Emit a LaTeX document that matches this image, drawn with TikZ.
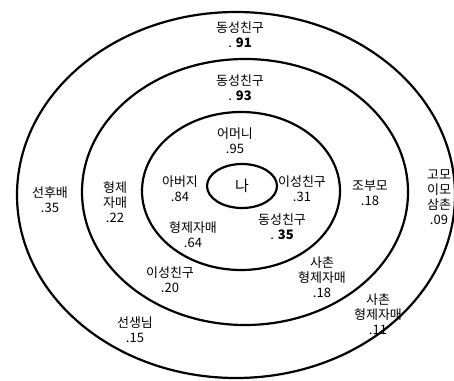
\documentclass[tikz,border=0pt]{standalone}
\usepackage{fontspec}
\setmainfont{Noto Sans CJK KR}
\usetikzlibrary{positioning}
\tikzset{
  ring/.style={line width=2.2pt},
  tie/.style={font=\fontsize{13}{15}\selectfont, align=center, inner sep=1pt}
}

\begin{document}
\begin{tikzpicture}[x=1pt, y=-1pt]
      \useasboundingbox (0,0) rectangle (454,380);
      \clip (0,0) rectangle (454,380);
      % rings
      \draw[ring] (236,195) ellipse [x radius=219, y radius=183];
      \draw[ring] (245,192) ellipse [x radius=163, y radius=133];
      \draw[ring] (241,191) ellipse [x radius=99, y radius=79];
      \draw[ring] (242,186) ellipse [x radius=35, y radius=22];
      % centre
      \node[tie, font=\fontsize{15}{17}\selectfont] (me) at (242,186) {나};
      % first ring
      \node[tie] (mother) at (235,141) {어머니\\.95};
      \node[tie] (father) at (180,189) {아버지\\.84};
      \node[tie] (oppfr1) at (302,189) {이성친구\\.31};
      \node[tie] (sibl1) at (193,235) {형제자매\\.64};
      \node[tie] (samefr1) at (282,227) {동성친구\\. \textbf{35}};
      % second ring
      \node[tie] (samefr2) at (240,88) {동성친구\\. \textbf{93}};
      \node[tie] (sibl2) at (115,202) {형제\\자매\\.22};
      \node[tie] (grand) at (370,193) {조부모\\.18};
      \node[tie] (oppfr2) at (170,280) {이성친구\\.20};
      \node[tie] (cousin1) at (322,277) {사촌\\형제자매\\.18};
      % outer ring
      \node[tie] (samefr3) at (240,35) {동성친구\\. \textbf{91}};
      \node[tie] (senior) at (50,200) {선후배\\.35};
      \node[tie] (teacher) at (135,330) {선생님\\.15};
      \node[tie] (cousin2) at (378,314) {사촌\\형제자매\\.11};
      \node[tie] (relat) at (439,197) {고모\\이모\\삼촌\\.09};
    \end{tikzpicture}
\end{document}
